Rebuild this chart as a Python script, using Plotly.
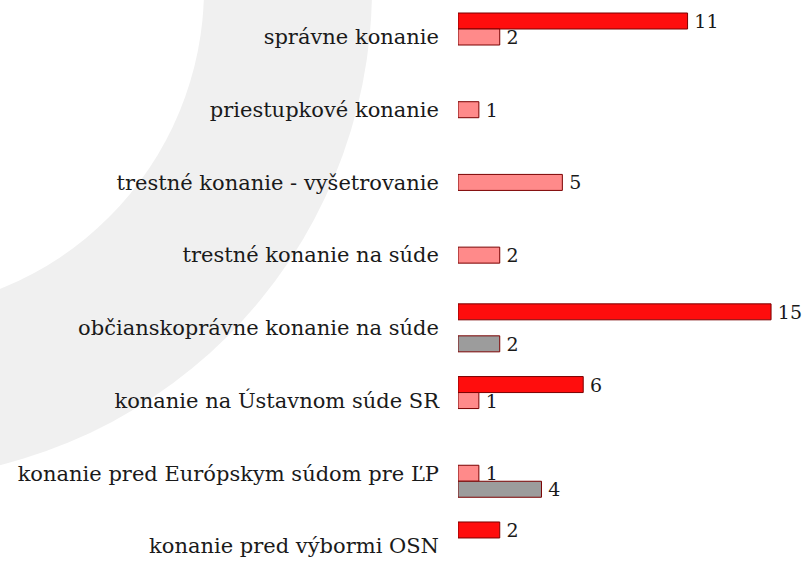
import plotly.graph_objects as go

categories = [
    "správne konanie",
    "priestupkové konanie",
    "trestné konanie - vyšetrovanie",
    "trestné konanie na súde",
    "občianskoprávne konanie na súde",
    "konanie na Ústavnom súde SR",
    "konanie pred Európskym súdom pre ĽP",
    "konanie pred výbormi OSN",
]
series_red = [11, None, None, None, 15, 6, None, 2]
series_pink = [2, 1, 5, 2, None, 1, 1, None]
series_gray = [None, None, None, None, 2, None, 4, None]

FONT = "DejaVu Serif"
W, H = 805, 564
L = 458

fig = go.Figure()
for name, vals, col in [("A", series_red, "#ff0d0d"),
                        ("B", series_pink, "#ff8a8a"),
                        ("C", series_gray, "#9c9c9c")]:
    fig.add_trace(go.Bar(
        y=categories, x=vals, orientation="h", name=name,
        marker=dict(color=col, line=dict(color="#7a0000", width=1)),
        text=[("" if v is None else "\u2009" + str(v)) for v in vals],
        textposition="outside", cliponaxis=False, constraintext="none",
        textfont=dict(family=FONT, size=19, color="#1a1a1a"),
        showlegend=False, hoverinfo="x+y",
    ))

# decorative background ring (pixel sizes relative to plot top-left corner)
cx, cy, r_out, r_in = -120 - L, 12, 492, 324
for r, c in [(r_out, "#f0f0f0"), (r_in, "#ffffff")]:
    fig.add_shape(type="circle", xref="paper", yref="paper",
                  xsizemode="pixel", ysizemode="pixel", xanchor=0, yanchor=1,
                  x0=cx - r, x1=cx + r, y0=cy - r, y1=cy + r,
                  fillcolor=c, line=dict(width=0), layer="below")

band = 72.71
fig.update_layout(
    width=W, height=H,
    margin=dict(l=L, r=0, t=0, b=0),
    paper_bgcolor="white", plot_bgcolor="rgba(0,0,0,0)",
    barmode="group", bargap=0.34, bargroupgap=0,
    xaxis=dict(range=[0, (W - L) / 20.87], showgrid=False, zeroline=False,
               showticklabels=False, showline=False, fixedrange=True),
    yaxis=dict(range=[(H - 37) / band, -37 / band], showgrid=False,
               zeroline=False, showline=False, ticks="",
               ticklabelstandoff=18,
               tickfont=dict(family=FONT, size=21, color="#1a1a1a")),
)
fig.write_html("out.html", config={"displayModeBar": False},
               post_script="document.body.style.margin='0';")
